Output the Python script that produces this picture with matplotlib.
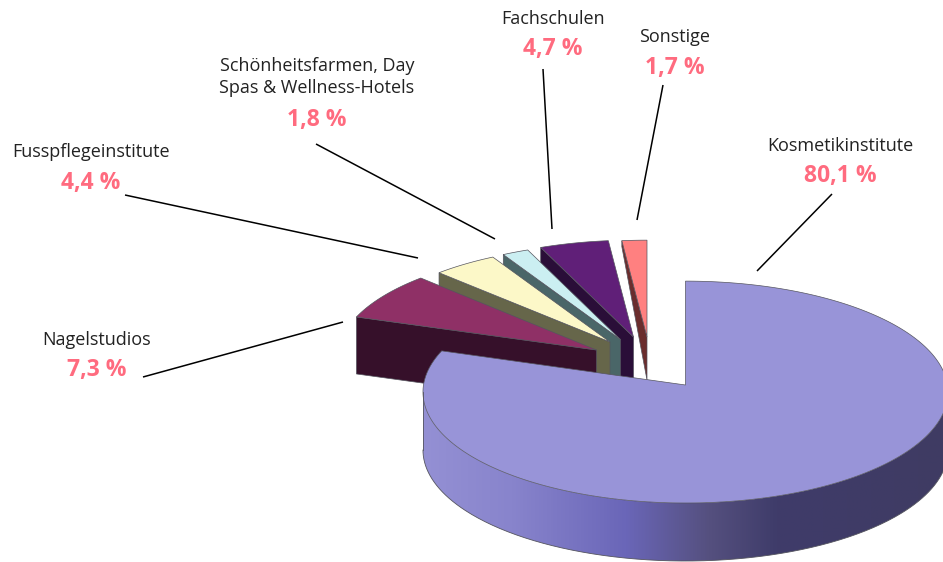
import numpy as np
import matplotlib
matplotlib.use('Agg')
import matplotlib.pyplot as plt
from matplotlib.colors import LinearSegmentedColormap
from matplotlib.patches import Polygon

# Data
categories = ['Kosmetikinstitute', 'Nagelstudios', 'Fusspflegeinstitute',
              'Schönheitsfarmen, Day\nSpas & Wellness-Hotels', 'Fachschulen', 'Sonstige']
shares = [80.1, 7.3, 4.4, 1.8, 4.7, 1.7]
share_labels = ['80,1 %', '7,3 %', '4,4 %', '1,8 %', '4,7 %', '1,7 %']

# Layout, in pixels of the picture
apex_x = [685.5, 596.5, 610, 620.5, 633.5, 647]
apex_y = [385, 350, 342, 339.5, 337, 337]
radius_x = [262, 258, 251, 251, 251, 251]
radius_y = [110.5, 107, 103, 103, 103, 103]
outer_depth = [58, 57, 57, 57, 57, 6]
apex_depth = [58, 57, 57, 57, 57, 43]
PERSPECTIVE = 0.0636

top_colors = ['#9894D8', '#8F3066', '#FCF8C8', '#CBEFF2', '#601F78', '#FF8080']
face_colors = ['#3F3B63', '#36102A', '#66664A', '#4A6668', '#2A0E38', '#6B2D2D']
edge_color = '#55555F'

label_x = [840, 97, 91, 317, 553, 675]
label_y = [146, 340, 152, 77, 19, 37]
pct_y = [176, 370, 183, 120, 49, 68]
leader_from = [(832, 194), (143, 377), (125, 195), (316, 144), (543, 69), (663, 85)]
leader_to = [(757, 271), (343, 322), (418, 258), (495, 239), (552, 229), (637, 220)]

side_cmap = LinearSegmentedColormap.from_list(
    'side', [(0.0, '#9490D4'), (0.17, '#8884CC'), (0.39, '#6A66B8'), (0.55, '#55507F'),
             (0.68, '#3F3C6A'), (1.0, '#3F3B63')])


def project(i, angle):
    # angle in degrees, clockwise from 12 o'clock
    t = np.radians(angle)
    s = 1 / (1 + PERSPECTIVE * np.cos(t))
    return (apex_x[i] + radius_x[i] * np.sin(t) * s,
            apex_y[i] - radius_y[i] * np.cos(t) * s)


fig = plt.figure(figsize=(9.43, 5.62), dpi=100)
ax = fig.add_axes([0, 0, 1, 1])

# slice limits from the shares
limits = np.cumsum([0] + shares) * 3.6

# small slices first, from the back, the big one last
for i in [5, 4, 3, 2, 1]:
    a0, a1 = limits[i], limits[i + 1]
    cx, cy = project(i, a0)
    face = [(apex_x[i], apex_y[i]), (cx, cy), (cx, cy + outer_depth[i]),
            (apex_x[i], apex_y[i] + apex_depth[i])]
    ax.fill(*zip(*face), facecolor=face_colors[i], edgecolor=edge_color, linewidth=0.5)
    arc = np.linspace(a0, a1, 40)
    xs, ys = project(i, arc)
    ax.fill(np.r_[apex_x[i], xs], np.r_[apex_y[i], ys], facecolor=top_colors[i],
            edgecolor=edge_color, linewidth=0.5)

# rim of the big slice: a horizontal colour ramp clipped to the rim shape,
# only between the two widest points of the ellipse
widest = np.degrees(np.arccos(-PERSPECTIVE))
arc = np.linspace(widest, 360 - widest, 300)
xs, ys = project(0, arc)
rim = Polygon(np.c_[np.r_[xs, xs[::-1]], np.r_[ys, ys[::-1] + outer_depth[0]]],
              transform=ax.transData, facecolor='none', edgecolor='none')
ax.add_patch(rim)
ramp = ax.imshow(np.linspace(0, 1, 512)[None, :], extent=(423, 943, 562, 380), cmap=side_cmap,
                 aspect='auto', interpolation='bilinear')
ramp.set_clip_path(rim)
ax.plot(xs, ys + outer_depth[0], color='#55555F', linewidth=0.6)
ax.plot([xs[-1], xs[-1]], [ys[-1], ys[-1] + outer_depth[0]], color='#55555F', linewidth=0.6)

arc = np.linspace(limits[0], limits[1], 300)
xs, ys = project(0, arc)
ax.fill(np.r_[apex_x[0], xs], np.r_[apex_y[0], ys], facecolor=top_colors[0],
        edgecolor=edge_color, linewidth=0.5)

# leaders and labels
for i in range(len(categories)):
    ax.plot([leader_from[i][0], leader_to[i][0]], [leader_from[i][1], leader_to[i][1]],
            color='black', linewidth=1.1, solid_capstyle='butt')
    ax.text(label_x[i], label_y[i], categories[i], ha='center', va='center', fontsize=13,
            family='Open Sans', color='#222222', linespacing=1.28)
    ax.text(label_x[i], pct_y[i], share_labels[i], ha='center', va='center', fontsize=16.5,
            family='Open Sans', fontweight='bold', color='#FF6B7F')

ax.set_xlim(0, 943)
ax.set_ylim(562, 0)
ax.axis('off')

fig.savefig('out.png', dpi=100)
